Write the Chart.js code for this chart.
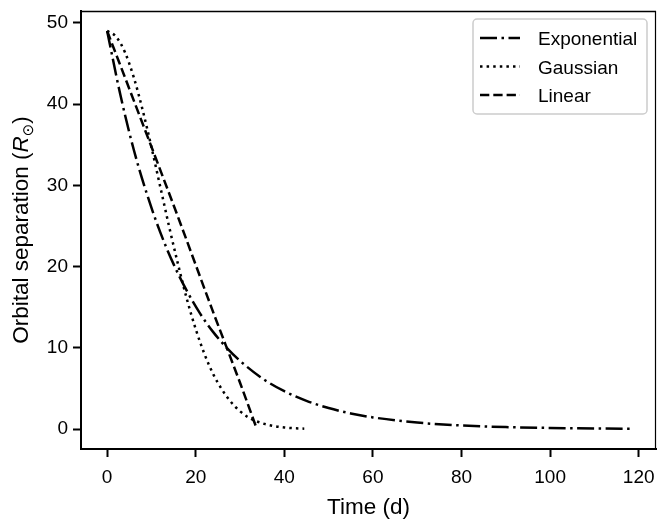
<!DOCTYPE html>
<html>
<head>
<meta charset="utf-8">
<script src="https://cdn.jsdelivr.net/npm/chart.js@4.4.1/dist/chart.umd.min.js"></script>
<style>
  html, body { margin: 0; padding: 0; background: #fff; }
  #wrap { width: 657px; height: 520px; }
</style>
</head>
<body>
<div id="wrap"><canvas id="c" width="657" height="520"></canvas></div>
<script>
// ---- data ----
const seriesNames = ['Exponential', 'Gaussian', 'Linear'];
const xTicks = [0, 20, 40, 60, 80, 100, 120];
const yTicks = [0, 10, 20, 30, 40, 50];

const expTime = [0, 3, 6, 9, 12, 15, 18, 21, 24, 27, 30, 35, 40, 45, 50, 55, 60, 70, 80, 90, 100, 110, 118];
const expSep  = [49, 41.1, 34.4, 28.9, 24.2, 20.3, 17.0, 14.2, 11.9, 10.0, 8.4, 6.25, 4.66, 3.47, 2.59, 1.93, 1.44, 0.80, 0.44, 0.25, 0.14, 0.076, 0.047];

const gaussTime = [0, 2, 4, 6, 8, 10, 12, 14, 16, 18, 20, 22, 24, 26, 28, 30, 32, 34, 36, 38, 40, 42, 44.5];
const gaussSep  = [49, 48.3, 46.4, 43.3, 39.3, 34.7, 29.8, 24.9, 20.3, 16.0, 12.3, 9.2, 6.7, 4.8, 3.3, 2.2, 1.4, 0.9, 0.56, 0.34, 0.2, 0.11, 0.05];

const linTime = [0, 8, 16, 24, 30, 33.8];
const linSep  = [49, 37.6, 26.1, 14.3, 5.7, 0];

const xRange = [-5.9, 123.9];
const yRange = [-2.45, 51.45];

// ---- styles ----
const FONT = '"Liberation Sans", Arial, Helvetica, sans-serif';
const dashes = [[17, 4.5, 2.5, 4.5], [2.5, 4.1], [9.3, 4]];
const series = [[expTime, expSep], [gaussTime, gaussSep], [linTime, linSep]];

const datasets = series.map((s, k) => ({
  label: seriesNames[k],
  data: s[0].map((t, i) => ({ x: t, y: s[1][i] })),
  borderColor: '#000',
  borderWidth: 2.5,
  borderDash: dashes[k],
  borderCapStyle: 'butt',
  pointRadius: 0,
  fill: false,
  cubicInterpolationMode: 'monotone'
}));

const framePlugin = {
  id: 'frame',
  afterDraw(chart) {
    const ctx = chart.ctx, a = chart.chartArea;
    ctx.save();
    ctx.strokeStyle = '#000';
    // top and right spines
    ctx.lineWidth = 1.5;
    ctx.beginPath(); ctx.moveTo(a.left, a.top + 0.5); ctx.lineTo(a.right, a.top + 0.5); ctx.stroke();
    ctx.lineWidth = 1.2;
    ctx.beginPath(); ctx.moveTo(a.right - 0.5, a.top); ctx.lineTo(a.right - 0.5, a.bottom); ctx.stroke();

    // legend
    const bx = a.right - 183, by = a.top + 8, bw = 174, bh = 95, r = 4;
    ctx.beginPath();
    ctx.moveTo(bx + r, by);
    ctx.arcTo(bx + bw, by, bx + bw, by + bh, r);
    ctx.arcTo(bx + bw, by + bh, bx, by + bh, r);
    ctx.arcTo(bx, by + bh, bx, by, r);
    ctx.arcTo(bx, by, bx + bw, by, r);
    ctx.closePath();
    ctx.fillStyle = 'rgba(255,255,255,0.85)';
    ctx.fill();
    ctx.strokeStyle = '#cccccc';
    ctx.lineWidth = 1.5;
    ctx.stroke();

    chart.data.datasets.forEach((ds, i) => {
      const yc = by + 19 + i * 28.5;
      ctx.save();
      ctx.strokeStyle = '#000';
      ctx.lineWidth = ds.borderWidth;
      ctx.lineCap = 'butt';
      ctx.setLineDash(ds.borderDash);
      ctx.beginPath(); ctx.moveTo(bx + 7, yc); ctx.lineTo(bx + 47, yc); ctx.stroke();
      ctx.restore();
      ctx.fillStyle = '#000';
      ctx.font = '19px ' + FONT;
      ctx.textBaseline = 'alphabetic';
      ctx.textAlign = 'left';
      ctx.fillText(ds.label, bx + 65, yc + 7.3);
    });

    // x axis title
    ctx.fillStyle = '#000';
    ctx.font = '22.5px ' + FONT;
    ctx.textAlign = 'center';
    ctx.textBaseline = 'alphabetic';
    ctx.fillText('Time (d)', (a.left + a.right) / 2, 514);

    // y axis title with italic R and subscript sun symbol
    const parts = [
      { t: 'Orbital separation (', f: '22.5px ' + FONT, dy: 0 },
      { t: 'R', f: 'italic 22.5px ' + FONT, dy: 0 },
      { t: '\u2299', f: '15px "DejaVu Sans", ' + FONT, dy: 4.5 },
      { t: ')', f: '22.5px ' + FONT, dy: 0 }
    ];
    let total = 0;
    parts.forEach(p => { ctx.font = p.f; p.w = ctx.measureText(p.t).width; total += p.w; });
    ctx.translate(28, (a.top + a.bottom) / 2);
    ctx.rotate(-Math.PI / 2);
    ctx.textAlign = 'left';
    let xx = -total / 2;
    parts.forEach(p => { ctx.font = p.f; ctx.fillText(p.t, xx, p.dy); xx += p.w; });
    ctx.restore();
  }
};

new Chart(document.getElementById('c'), {
  type: 'line',
  data: { datasets },
  options: {
    responsive: false,
    animation: false,
    events: [],
    layout: { padding: { top: 11, right: 1, left: 0, bottom: 0 } },
    plugins: { legend: { display: false }, tooltip: { enabled: false }, title: { display: false } },
    scales: {
      x: {
        type: 'linear',
        min: xRange[0], max: xRange[1],
        afterBuildTicks: s => { s.ticks = xTicks.map(v => ({ value: v })); },
        afterFit: s => { s.height = 71; s.paddingLeft = 0; s.paddingRight = 0; },
        grid: { drawOnChartArea: false, drawTicks: true, tickLength: 8, tickWidth: 2, tickColor: '#000' },
        border: { display: true, width: 2, color: '#000' },
        ticks: { color: '#000', font: { family: FONT, size: 19 }, padding: 9, maxRotation: 0 }
      },
      y: {
        type: 'linear',
        min: yRange[0], max: yRange[1],
        afterBuildTicks: s => { s.ticks = yTicks.map(v => ({ value: v })); },
        afterFit: s => { s.width = 81; s.paddingTop = 0; s.paddingBottom = 0; },
        grid: { drawOnChartArea: false, drawTicks: true, tickLength: 8, tickWidth: 2, tickColor: '#000' },
        border: { display: true, width: 2, color: '#000' },
        ticks: { color: '#000', font: { family: FONT, size: 19 }, padding: 5 }
      }
    }
  },
  plugins: [framePlugin]
});
</script>
</body>
</html>
